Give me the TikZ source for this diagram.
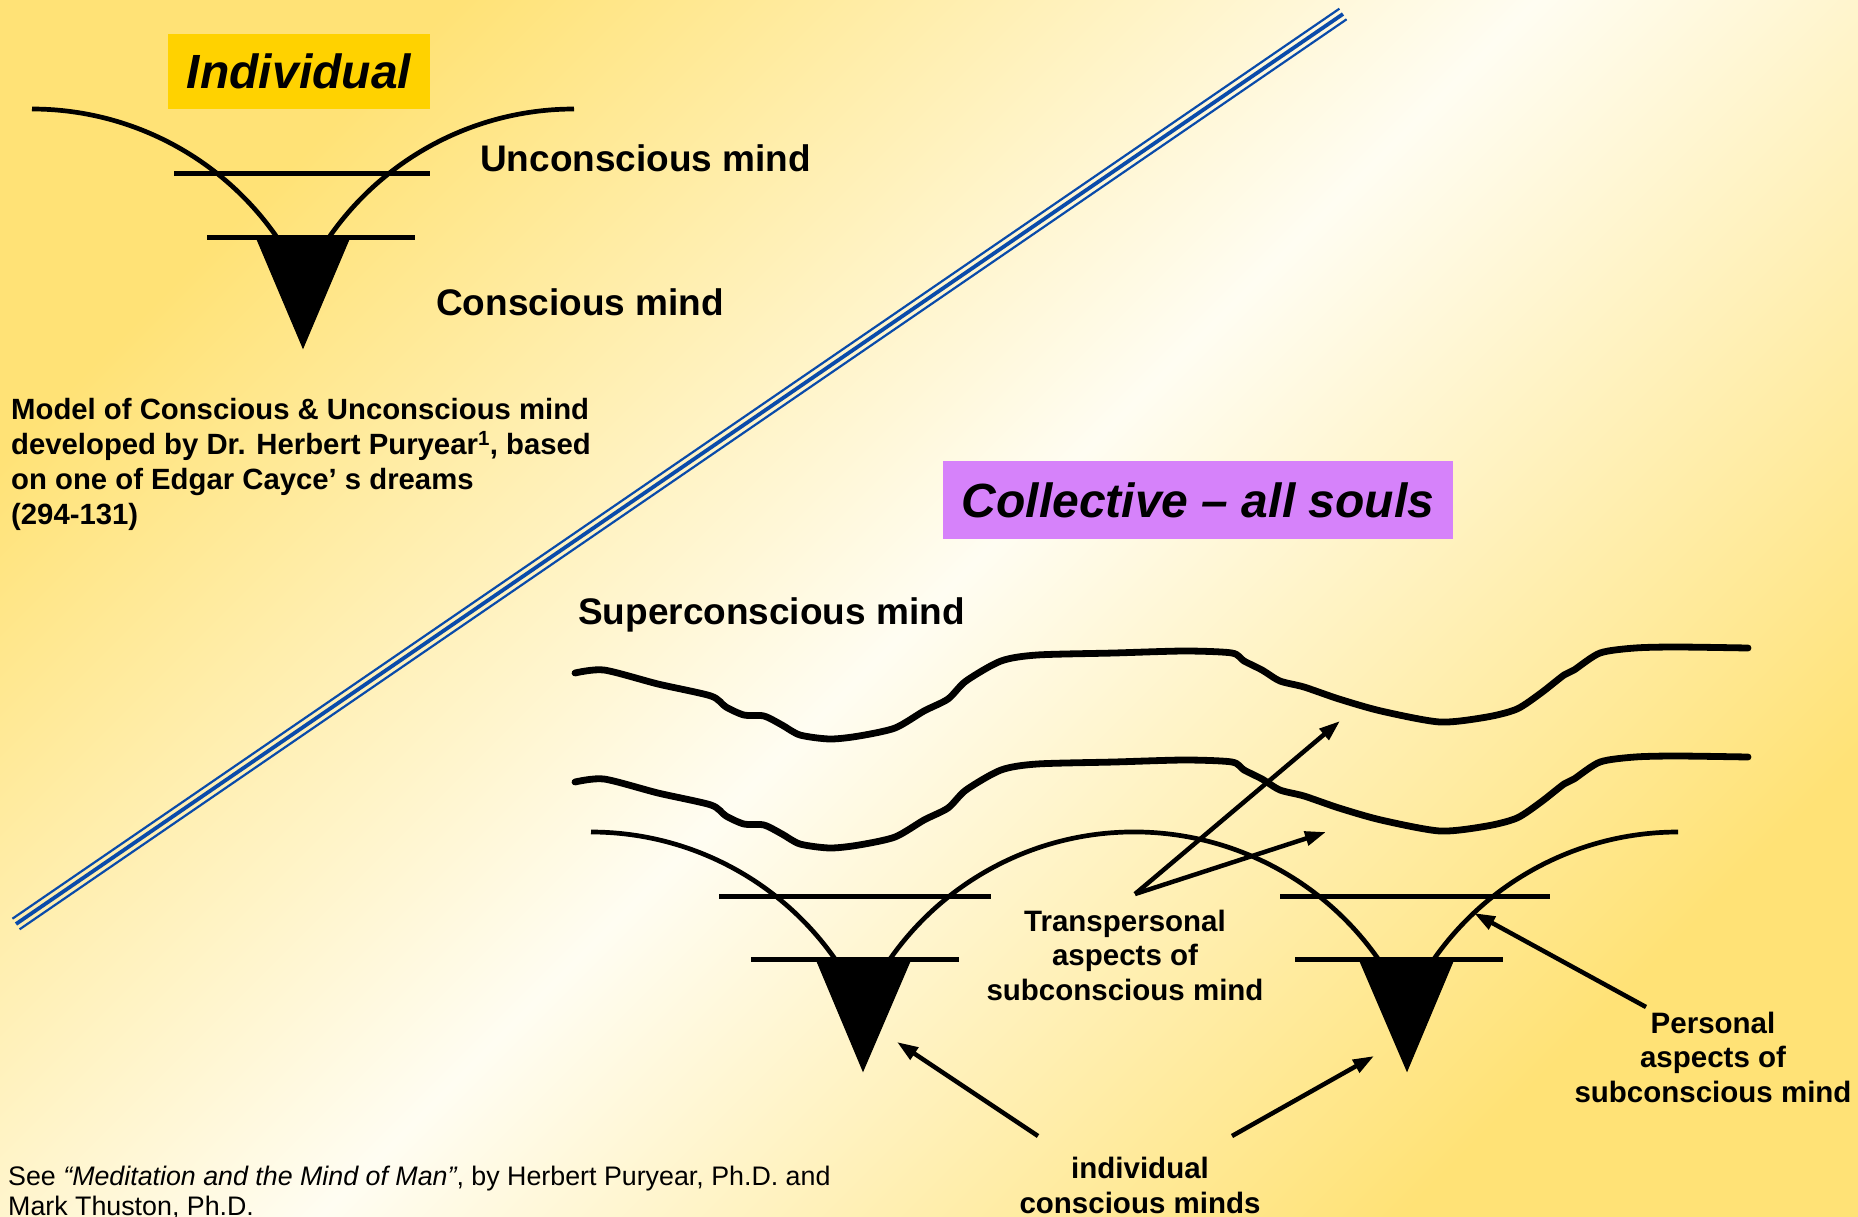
\documentclass[tikz,border=0pt]{standalone}
\usepackage{fontspec}
\setmainfont{Liberation Sans}
\usetikzlibrary{arrows.meta}
\definecolor{bgY}{RGB}{255,226,118}
\definecolor{bgW}{RGB}{255,253,242}
\definecolor{gold}{RGB}{255,210,0}
\definecolor{violetbox}{RGB}{214,130,250}
\definecolor{lineblue}{RGB}{10,75,170}
\tikzset{
  lbl/.style={inner sep=0pt, font=\bfseries\fontsize{37}{44}\selectfont},
  smalllbl/.style={inner sep=0pt, align=center, font=\bfseries\fontsize{29.5}{34.8}\selectfont},
  caption/.style={inner sep=0pt, align=left, font=\bfseries\fontsize{29.3}{35.2}\selectfont},
  foot/.style={inner sep=0pt, align=left, font=\fontsize{26.8}{30}\selectfont},
  titlebox/.style={inner sep=0pt, font=\bfseries\itshape\fontsize{48}{56}\selectfont},
  arcline/.style={line width=4.7pt},
  hline/.style={line width=5pt},
  wave/.style={line width=6.8pt, line join=round, line cap=round},
  arr/.style={line width=4.5pt, -{Triangle[length=21pt,width=14pt]}},
  tri/.style={fill=black, draw=black, line width=1pt, line join=miter},
  bluerule/.style={draw=lineblue},
}
\begin{document}
\begin{tikzpicture}[x=1pt,y=-1pt]
\useasboundingbox (0,0) rectangle (1858,1216);
\shade[top color=bgY, bottom color=bgY, middle color=bgW, shading angle=45] (0,0) rectangle (1858,1216);

% blue triple diagonal rule
\coordinate (bA) at (16,924);
\coordinate (bB) at (1343,14);
\draw[bluerule, line width=3.8pt] (bA) -- (bB);
\draw[bluerule, line width=2.2pt] ([shift={(-3.6,-5.3)}]bA) -- ([shift={(-3.6,-5.3)}]bB);
\draw[bluerule, line width=2.2pt] ([shift={(3.6,5.3)}]bA) -- ([shift={(3.6,5.3)}]bB);

% ---------------- Individual ----------------
\node[titlebox, fill=gold, minimum width=262pt, minimum height=75pt] (indiv) at (299,71) {Individual};
\draw[arcline] (32,109) arc[start angle=-90, end angle=-35, radius=298];
\draw[arcline] (574,109) arc[start angle=-90, end angle=-145, radius=298];
\draw[hline] (174,173) -- (430,173);
\draw[hline] (207,237) -- (415,237);
\fill[tri] (256,237) -- (350,237) -- (303,348) -- cycle;
\node[lbl, anchor=base west] (uncon) at (480,171) {Unconscious mind};
\node[lbl, anchor=base west] (con) at (436,315) {Conscious mind};
\node[caption, anchor=base west] (cap) at (11,524.6) {Model of Conscious \& Unconscious mind\\developed by Dr. Herbert Puryear\textsuperscript{1}, based\\on one of Edgar Cayce’ s dreams\\(294-131)};

% ---------------- Collective ----------------
\node[titlebox, fill=violetbox, minimum width=510pt, minimum height=78pt] (coll) at (1198,500) {Collective – all souls};
\node[lbl, anchor=base west] (super) at (578,624) {Superconscious mind};

\foreach \dy in {0,109}{
\draw[wave, yshift=-\dy pt] plot[smooth, tension=0.45] coordinates {
(575,673) (604,670) (658,684) (711,696) (726,707) (744,715) (764,716) (782,725) (800,735) (830,739) (859,736) (895,728) (924,711) (948,699) (966,681) (1001,661) (1037,655) (1114,653) (1185,651) (1232,653) (1244,661) (1262,670) (1280,681) (1304,687) (1339,699) (1381,711) (1440,722) (1487,717) (1517,709) (1541,693) (1564,675) (1574,670) (1600,653) (1635,648) (1677,647) (1748,648)};
}

% left mind
\draw[arcline] (591,832) arc[start angle=-90, end angle=-35, radius=298];
\draw[hline] (719,896) -- (991,896);
\draw[hline] (751,959) -- (959,959);
\fill[tri] (816,959) -- (911,959) -- (863,1071) -- cycle;
% shared arch
\draw[arcline] (890,959) arc[start angle=-145, end angle=-35, radius=298];
% right mind
\draw[arcline] (1678,832) arc[start angle=-90, end angle=-145, radius=298];
\draw[hline] (1280,896) -- (1550,896);
\draw[hline] (1295,959) -- (1503,959);
\fill[tri] (1359,959) -- (1454,959) -- (1407,1071) -- cycle;

% labels
\node[smalllbl, anchor=base] (trans) at (1125,1000.6) {Transpersonal\\aspects of\\subconscious mind};
\node[smalllbl, anchor=base] (pers) at (1713,1102.6) {Personal\\aspects of\\subconscious mind};
\node[smalllbl, anchor=base] (indc) at (1140,1213) {individual\\conscious minds};
\node[foot, anchor=base west] (foot) at (8,1215) {See \textit{“Meditation and the Mind of Man”}, by Herbert Puryear, Ph.D. and\\Mark Thuston, Ph.D.};

% arrows
\coordinate (tT) at (1135,894);
\coordinate (hT1) at (1340,721);
\coordinate (hT2) at (1326,832);
\coordinate (tP) at (1646,1007);
\coordinate (hP) at (1474,913);
\coordinate (tI1) at (1038,1136);
\coordinate (hI1) at (897,1042);
\coordinate (tI2) at (1232,1136);
\coordinate (hI2) at (1374,1056);
\draw[arr] (tT) -- (hT1);
\draw[arr] (tT) -- (hT2);
\draw[arr] (tP) -- (hP);
\draw[arr] (tI1) -- (hI1);
\draw[arr] (tI2) -- (hI2);
\end{tikzpicture}
\end{document}
